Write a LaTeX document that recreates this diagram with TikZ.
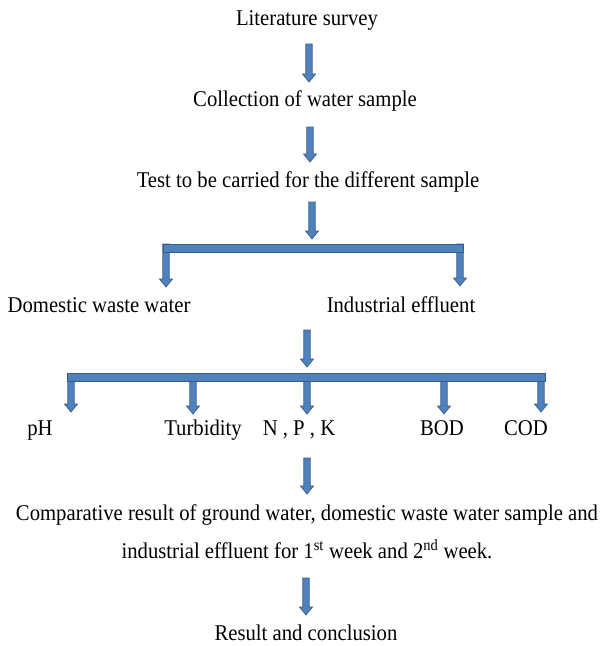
\documentclass[tikz,border=0pt]{standalone}
\usepackage{fontspec}
\setmainfont{Liberation Serif}[FakeStretch=0.92]
\usetikzlibrary{calc}
\definecolor{arrfill}{HTML}{4F81BD}
\definecolor{arrline}{HTML}{385D8A}
\tikzset{
  lbl/.style={anchor=base, inner sep=0pt, font=\fontsize{22.5}{26}\selectfont},
  blk/.style={fill=arrfill, draw=arrline, line width=0.7pt, line join=miter},
}
\newcommand\blkarrow[2]{%
  \filldraw[blk] let \p1=(#1), \p2=(#2) in
  (\x1-3.2pt,\y1) -- (\x1+3.2pt,\y1) -- (\x1+3.2pt,\y2+8pt) -- (\x1+6.5pt,\y2+8pt)
  -- (\x1,\y2) -- (\x1-6.5pt,\y2+8pt) -- (\x1-3.2pt,\y2+8pt) -- cycle;}
\newcommand\blkbar[2]{%
  \filldraw[blk] (#1) rectangle (#2);}
\begin{document}
\begin{tikzpicture}[x=1pt,y=-1pt]
\useasboundingbox (0,0) rectangle (601,646);
% texts
\node[lbl] (t1) at (307,25) {Literature survey};
\node[lbl] (t2) at (305,106) {Collection of water sample};
\node[lbl] (t3) at (308,187) {Test to be carried for the different sample};
\node[lbl] (dom) at (99,312) {Domestic waste water};
\node[lbl] (ind) at (401,312) {Industrial effluent};
\node[lbl] (ph) at (40,435) {pH};
\node[lbl] (tur) at (203,435) {Turbidity};
\node[lbl] (npk) at (299,435) {N , P , K};
\node[lbl] (bod) at (442,435) {BOD};
\node[lbl] (cod) at (526,435) {COD};
\node[lbl] (cmp1) at (307,520) {Comparative result of ground water, domestic waste water sample and};
\node[lbl] (cmp2) at (307,558) {industrial effluent for 1\textsuperscript{st} week and 2\textsuperscript{nd} week.};
\node[lbl] (res) at (306,640) {Result and conclusion};
% arrow coordinates
\coordinate (a1s) at (309,44);  \coordinate (a1e) at (309,82);
\coordinate (a2s) at (310,127); \coordinate (a2e) at (310,162);
\coordinate (a3s) at (312,202); \coordinate (a3e) at (312,239);
\coordinate (b1a) at (163,244); \coordinate (b1b) at (463,252);
\coordinate (b1ls) at (166,244); \coordinate (b1le) at (166,287);
\coordinate (b1rs) at (460,244); \coordinate (b1re) at (460,286);
\coordinate (a4s) at (307,330); \coordinate (a4e) at (307,367);
\coordinate (b2a) at (67,373); \coordinate (b2b) at (545,381);
\coordinate (p1s) at (71,374);  \coordinate (p1e) at (71,412);
\coordinate (p2s) at (193,374); \coordinate (p2e) at (193,414);
\coordinate (p3s) at (307,374); \coordinate (p3e) at (307,414);
\coordinate (p4s) at (444,374); \coordinate (p4e) at (444,414);
\coordinate (p5s) at (541,374); \coordinate (p5e) at (541,412);
\coordinate (a5s) at (307,458); \coordinate (a5e) at (307,494);
\coordinate (a6s) at (306,578); \coordinate (a6e) at (306,615);
% arrows
\blkarrow{a1s}{a1e}
\blkarrow{a2s}{a2e}
\blkarrow{a3s}{a3e}
\blkarrow{b1ls}{b1le}
\blkarrow{b1rs}{b1re}
\blkbar{b1a}{b1b}
\blkarrow{a4s}{a4e}
\blkarrow{p1s}{p1e}
\blkarrow{p2s}{p2e}
\blkarrow{p3s}{p3e}
\blkarrow{p4s}{p4e}
\blkarrow{p5s}{p5e}
\blkbar{b2a}{b2b}
\blkarrow{a5s}{a5e}
\blkarrow{a6s}{a6e}
\end{tikzpicture}
\end{document}
